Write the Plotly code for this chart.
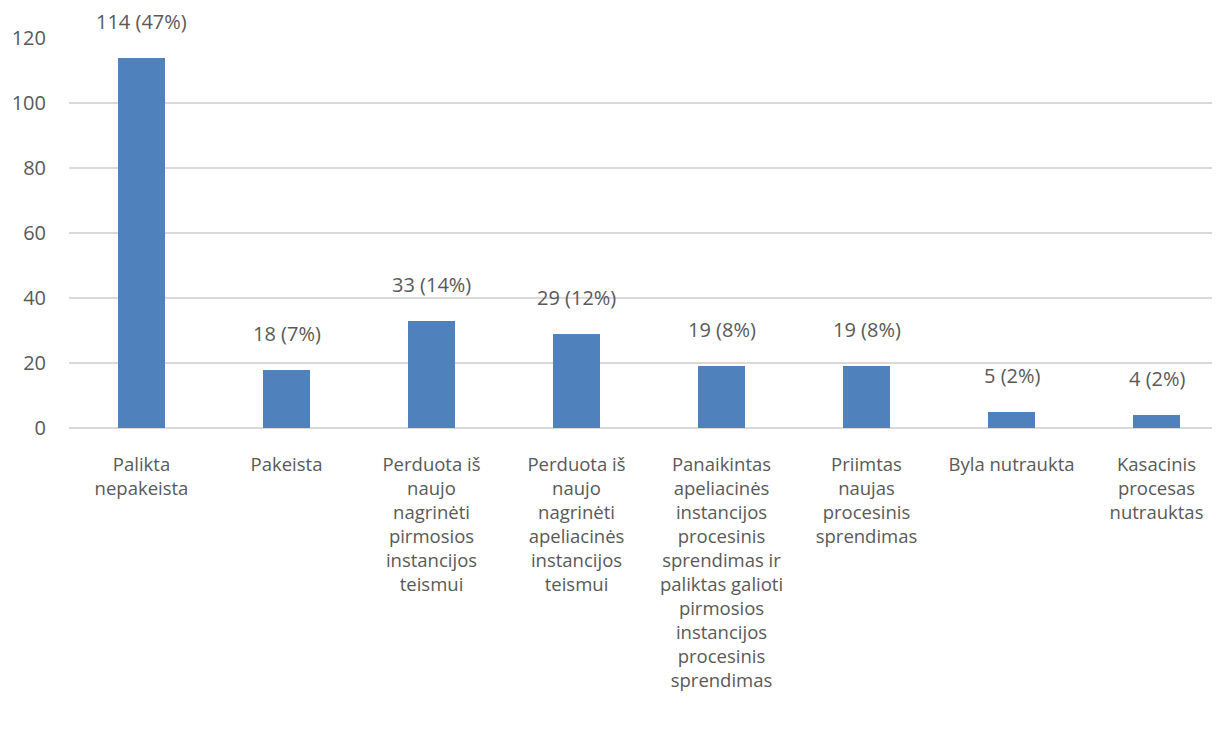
import plotly.graph_objects as go

categories = [
    "Palikta<br>nepakeista",
    "Pakeista",
    "Perduota iš<br>naujo<br>nagrinėti<br>pirmosios<br>instancijos<br>teismui",
    "Perduota iš<br>naujo<br>nagrinėti<br>apeliacinės<br>instancijos<br>teismui",
    "Panaikintas<br>apeliacinės<br>instancijos<br>procesinis<br>sprendimas ir<br>paliktas galioti<br>pirmosios<br>instancijos<br>procesinis<br>sprendimas",
    "Priimtas<br>naujas<br>procesinis<br>sprendimas",
    "Byla nutraukta",
    "Kasacinis<br>procesas<br>nutrauktas",
]
values = [114, 18, 33, 29, 19, 19, 5, 4]
percents = [47, 7, 14, 12, 8, 8, 2, 2]
y_ticks = [0, 20, 40, 60, 80, 100, 120]

FONT = "Open Sans"
TXT = "#595959"

x_idx = list(range(len(categories)))

fig = go.Figure()
fig.add_trace(go.Bar(
    x=x_idx, y=values, width=0.324,
    marker=dict(color="#4F81BD", line=dict(width=0)),
    hoverinfo="skip",
))

for i, (v, p) in enumerate(zip(values, percents)):
    fig.add_annotation(
        x=i, y=v, text=f"{v} ({p}%)", showarrow=False,
        yanchor="bottom", yshift=21,
        font=dict(family=FONT, size=20, color=TXT),
    )

fig.update_layout(
    width=1220, height=734,
    margin=dict(l=61, r=0, t=30, b=314),
    plot_bgcolor="white", paper_bgcolor="white",
    showlegend=False,
    font=dict(family=FONT, size=18.5, color=TXT),
    xaxis=dict(
        range=[-0.5, 7.493],
        tickmode="array", tickvals=x_idx, ticktext=categories,
        showgrid=False, zeroline=False, showline=False,
        ticks="", tickangle=0, ticklabelstandoff=23,
        tickfont=dict(family=FONT, size=18.5, color=TXT),
    ),
    yaxis=dict(
        range=[0, 120],
        tickmode="array", tickvals=y_ticks,
        showgrid=True, gridcolor="#D9D9D9", gridwidth=1.5,
        zeroline=True, zerolinecolor="#D9D9D9", zerolinewidth=1.5,
        showline=False, ticks="", ticklabelstandoff=22,
        tickfont=dict(family=FONT, size=20, color=TXT),
    ),
    bargap=0,
)

fig.write_html("out.html")
